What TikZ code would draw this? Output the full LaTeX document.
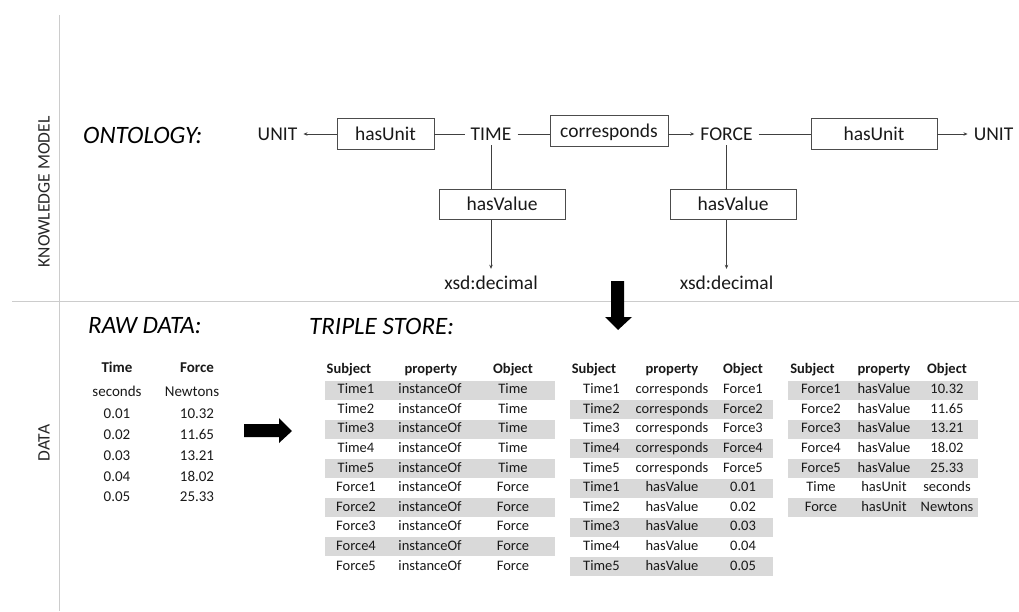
\documentclass[tikz,border=0pt]{standalone}
\usepackage{fontspec}
\setmainfont{Carlito}
\usetikzlibrary{arrows.meta}

\begin{document}
\begin{tikzpicture}[x=1pt,y=-1pt,
  concept/.style={inner xsep=6pt,inner ysep=3pt,text height=14pt,text depth=2pt,text=black!90,font=\fontsize{19.5}{23}\selectfont},
  relbox/.style={draw=black!70,line width=0.8pt,minimum height=30.5pt,inner sep=0pt,text height=14pt,text depth=2pt,text=black!90,font=\fontsize{19.5}{23}\selectfont},
  link/.style={draw=black!75,line width=0.8pt},
  linkto/.style={link,-{Stealth[length=4pt,width=3.5pt]}},
  heading/.style={anchor=west,inner sep=0pt,text=black,font=\fontsize{25}{29}\selectfont\itshape},
  side/.style={rotate=90,text=black!85,font=\fontsize{17.5}{20}\selectfont},
  cell/.style={inner sep=0pt,text height=9.5pt,text depth=2pt,text=black!90,font=\fontsize{14.5}{17}\selectfont},
  headcell/.style={cell,font=\fontsize{14.5}{17}\selectfont\bfseries},
  rawcell/.style={cell,font=\fontsize{15}{18}\selectfont},
  rawhead/.style={cell,font=\fontsize{15}{18}\selectfont\bfseries},
  shade/.style={fill=black!15}]
  \useasboundingbox (0,0) rectangle (1019,611);

  % frame lines
  \draw[gray!40,line width=1pt] (59,15) -- (59,611);
  \draw[gray!40,line width=1pt] (12,301) -- (1019,301);
  \node[side] (kmodel) at (44,192) {KNOWLEDGE MODEL};
  \node[side] (datalbl) at (44,443) {DATA};

  % ontology
  \node[heading] (onto) at (83,135) {ONTOLOGY:};
  \node[concept] (unitL) at (277.5,134) {UNIT};
  \node[relbox,minimum width=97pt] (hasUnitL) at (385.5,134) {hasUnit};
  \node[concept] (time) at (491,134) {TIME};
  \node[relbox,minimum width=118pt] (corr) at (609,131) {corresponds};
  \node[concept] (force) at (726.5,134) {FORCE};
  \node[relbox,minimum width=126pt] (hasUnitR) at (874,134) {hasUnit};
  \node[concept] (unitR) at (993.5,134) {UNIT};
  \node[relbox,minimum width=126pt] (hvT) at (502,204.5) {hasValue};
  \node[relbox,minimum width=126pt] (hvF) at (733,204.5) {hasValue};
  \node[concept,inner ysep=6pt] (xsdT) at (491,283) {xsd:decimal};
  \node[concept,inner ysep=6pt] (xsdF) at (726.5,283) {xsd:decimal};

  \draw[linkto] (hasUnitL.west) -- (unitL.east);
  \draw[link] (time.west) -- (hasUnitL.east);
  \draw[link] (time.east) -- (time.east -| corr.west);
  \draw[linkto] (corr.east |- force.west) -- (force.west);
  \draw[link] (force.east) -- (hasUnitR.west);
  \draw[linkto] (hasUnitR.east) -- (unitR.west);
  \draw[link] (time.south) -- (time.south |- hvT.north);
  \draw[linkto] (hvT.south -| time.south) -- (xsdT.north);
  \draw[link] (force.south) -- (force.south |- hvF.north);
  \draw[linkto] (hvF.south -| force.south) -- (xsdF.north);

  % block arrows
  \fill[black] (611,281) -- (624,281) -- (624,317) -- (632,317) -- (618,330) -- (605,317) -- (611,317) -- cycle;
  \fill[black] (244,424) -- (279,424) -- (279,418) -- (292,431) -- (279,443) -- (279,437) -- (244,437) -- cycle;

  % raw data
  \node[heading] (raw) at (88,326) {RAW DATA:};
  \node[rawhead] (rTime) at (117,369) {Time};
  \node[rawhead] (rForce) at (197,369) {Force};
  \node[rawcell] (rSec) at (117,393) {seconds};
  \node[rawcell] (rNewt) at (192,393) {Newtons};
  \foreach \t/\f [count=\k] in {0.01/10.32,0.02/11.65,0.03/13.21,0.04/18.02,0.05/25.33} {
    \node[rawcell] (rt\k) at (117,{415+20.75*(\k-1)}) {\t};
    \node[rawcell] (rf\k) at (197,{415+20.75*(\k-1)}) {\f};
  }

  % triple store
  \node[heading] (store) at (309,326) {TRIPLE STORE:};
  \foreach \i in {1,3,5,7,9}
    \fill[shade] (325,{380.5+19.6*(\i-1)}) rectangle (555,{399.5+19.6*(\i-1)});
  \foreach \i in {2,4,6,8,10}
    \fill[shade] (570,{380.5+19.6*(\i-1)}) rectangle (773,{399.5+19.6*(\i-1)});
  \foreach \i in {1,3,5,7}
    \fill[shade] (788,{380.5+19.6*(\i-1)}) rectangle (978,{399.5+19.6*(\i-1)});

  \node[headcell] (aSubj) at (349,370) {Subject};
  \node[headcell] (aProp) at (431,370) {property};
  \node[headcell] (aObj) at (513,370) {Object};
  \foreach \s/\p/\o [count=\i] in {Time1/instanceOf/Time,Time2/instanceOf/Time,Time3/instanceOf/Time,Time4/instanceOf/Time,Time5/instanceOf/Time,Force1/instanceOf/Force,Force2/instanceOf/Force,Force3/instanceOf/Force,Force4/instanceOf/Force,Force5/instanceOf/Force} {
    \node[cell] (as\i) at (356,{390+19.6*(\i-1)}) {\s};
    \node[cell] (ap\i) at (430,{390+19.6*(\i-1)}) {\p};
    \node[cell] (ao\i) at (513,{390+19.6*(\i-1)}) {\o};
  }

  \node[headcell] (bSubj) at (594,370) {Subject};
  \node[headcell] (bProp) at (672,370) {property};
  \node[headcell] (bObj) at (743,370) {Object};
  \foreach \s/\p/\o [count=\i] in {Time1/corresponds/Force1,Time2/corresponds/Force2,Time3/corresponds/Force3,Time4/corresponds/Force4,Time5/corresponds/Force5,Time1/hasValue/0.01,Time2/hasValue/0.02,Time3/hasValue/0.03,Time4/hasValue/0.04,Time5/hasValue/0.05} {
    \node[cell] (bs\i) at (601.5,{390+19.6*(\i-1)}) {\s};
    \node[cell] (bp\i) at (672,{390+19.6*(\i-1)}) {\p};
    \node[cell] (bo\i) at (743,{390+19.6*(\i-1)}) {\o};
  }

  \node[headcell] (cSubj) at (812.5,370) {Subject};
  \node[headcell] (cProp) at (884,370) {property};
  \node[headcell] (cObj) at (947,370) {Object};
  \foreach \s/\p/\o [count=\i] in {Force1/hasValue/10.32,Force2/hasValue/11.65,Force3/hasValue/13.21,Force4/hasValue/18.02,Force5/hasValue/25.33,Time/hasUnit/seconds,Force/hasUnit/Newtons} {
    \node[cell] (cs\i) at (821,{390+19.6*(\i-1)}) {\s};
    \node[cell] (cp\i) at (884,{390+19.6*(\i-1)}) {\p};
    \node[cell] (co\i) at (947,{390+19.6*(\i-1)}) {\o};
  }
\end{tikzpicture}
\end{document}
